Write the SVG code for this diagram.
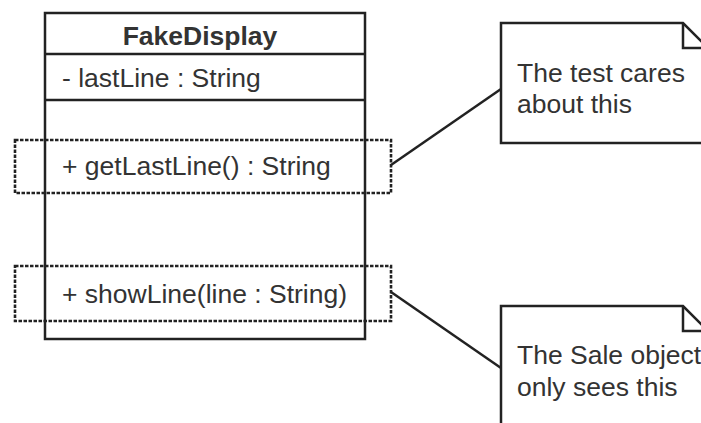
<svg xmlns="http://www.w3.org/2000/svg" width="701" height="423" viewBox="0 0 701 423">
  <style>
    .edge { fill: none; stroke: #222; stroke-width: 2.5; }
    .dash { fill: none; stroke: #222; stroke-width: 2.6; stroke-dasharray: 3.5 1.5; }
    .box { fill: #fff; stroke: #222; stroke-width: 2.5; }
    .txt { font-family: "Liberation Sans", Arial, sans-serif; font-size: 26.5px; fill: #333; }
    .bold { font-weight: bold; }
  </style>
  <rect width="701" height="423" fill="#fff"/>

  <!-- class FakeDisplay -->
  <g id="fakeDisplay">
    <rect class="box" x="45" y="13" width="320" height="326"/>
    <line class="edge" x1="45" y1="54" x2="365" y2="54"/>
    <line class="edge" x1="45" y1="100" x2="365" y2="100"/>
    <text class="txt bold" x="200" y="45" text-anchor="middle">FakeDisplay</text>
    <text class="txt" x="62" y="87">- lastLine : String</text>
    <text class="txt" x="62" y="175">+ getLastLine() : String</text>
    <text class="txt" x="62" y="303">+ showLine(line : String)</text>
  </g>

  <!-- highlighted operations -->
  <g id="highlightGet">
    <rect class="dash" x="15" y="140" width="376" height="53"/>
  </g>
  <g id="highlightShow">
    <rect class="dash" x="15" y="266" width="376" height="55"/>
  </g>

  <!-- note attached to getLastLine -->
  <g id="noteTest">
    <path class="box" d="M501 23 H683 L708 48 V143 H501 Z"/>
    <path class="edge" d="M683 23 V48 H708"/>
    <text class="txt" x="517" y="82">The test cares</text>
    <text class="txt" x="517" y="113">about this</text>
  </g>

  <!-- note attached to showLine -->
  <g id="noteSale">
    <path class="box" d="M501 306 H683 L708 331 V440 H501 Z"/>
    <path class="edge" d="M683 306 V331 H708"/>
    <text class="txt" x="517" y="364">The Sale object</text>
    <text class="txt" x="517" y="396">only sees this</text>
  </g>

  <!-- note anchors -->
  <g id="connectors">
    <line class="edge" x1="391" y1="165" x2="501" y2="89"/>
    <line class="edge" x1="391" y1="292" x2="501" y2="368"/>
  </g>
</svg>
